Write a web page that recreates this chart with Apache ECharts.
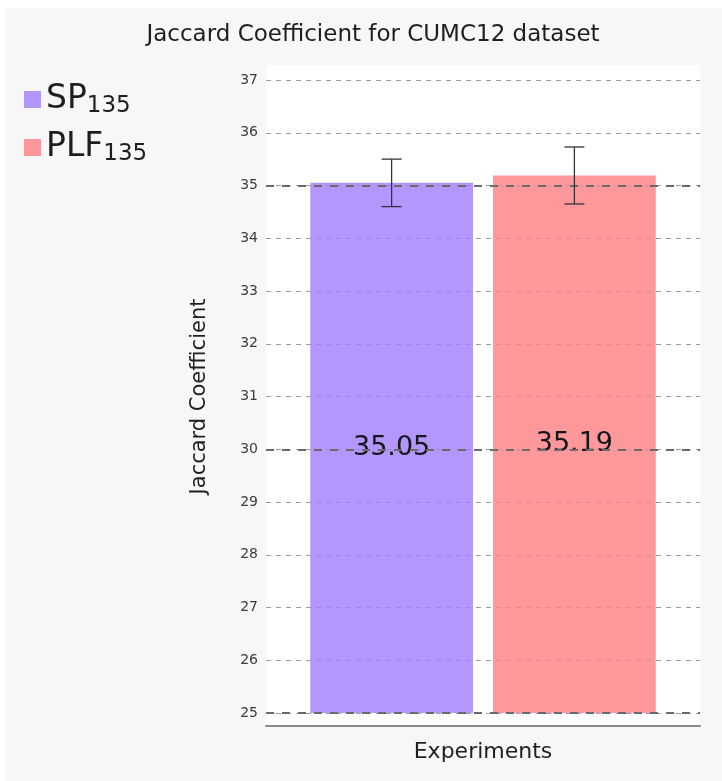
<!DOCTYPE html>
<html>
<head>
<meta charset="utf-8">
<script src="https://cdn.jsdelivr.net/npm/echarts@6/dist/echarts.min.js"></script>
<style>
  html, body { margin: 0; padding: 0; background: #ffffff; }
  #chart { width: 722px; height: 781px; }
</style>
</head>
<body>
<div id="chart"></div>
<script>
// Jaccard coefficient per experiment, with error bars
const seriesNames = ['SP', 'PLF'];
const nameSubscripts = ['135', '135'];
const meanValues = [35.05, 35.19];
const errorValues = [0.45, 0.54];
const categories = [''];
const yMin = 25;
const yMax = 37;
const yStep = 1;
const majorGuides = [25, 30, 35];

const barColors = ['rgba(161,125,251,0.8)', 'rgba(255,126,130,0.8)'];
const FONT = 'DejaVu Sans';
const BAR_WIDTH_RATIO = 0.375;
const BAR_GAP_RATIO = 0.123;

const chart = echarts.init(document.getElementById('chart'));

const barSeries = seriesNames.map((name, i) => ({
  name: name,
  type: 'bar',
  data: [meanValues[i]],
  barWidth: (BAR_WIDTH_RATIO * 100) + '%',
  barGap: (BAR_GAP_RATIO * 100) + '%',
  itemStyle: { color: barColors[i] },
  label: {
    show: true,
    position: 'inside',
    formatter: p => p.value.toFixed(2),
    fontFamily: FONT,
    fontSize: 27,
    color: '#16161f'
  },
  emphasis: { disabled: true },
  z: 2
}));

// thicker guides at the major values
barSeries[0].markLine = {
  silent: true,
  symbol: 'none',
  label: { show: false },
  lineStyle: { color: '#6a6a6a', width: 2, type: [8, 8] },
  data: majorGuides.map(v => ({ yAxis: v }))
};

const errorData = meanValues.map((m, i) => [0, m - errorValues[i], m + errorValues[i], i]);

const errorSeries = {
  type: 'custom',
  name: 'error',
  data: errorData,
  z: 5,
  silent: true,
  renderItem: function (params, api) {
    const s = api.value(3);
    const lo = api.coord([api.value(0), api.value(1)]);
    const hi = api.coord([api.value(0), api.value(2)]);
    const band = api.size([1, 0])[0];
    const bw = band * BAR_WIDTH_RATIO;
    const gap = bw * BAR_GAP_RATIO;
    const x = lo[0] + (s - 0.5) * (bw + gap);
    const cap = 10;
    const style = { stroke: '#333', lineWidth: 1.3 };
    return {
      type: 'group',
      children: [
        { type: 'line', shape: { x1: x, y1: lo[1], x2: x, y2: hi[1] }, style: style },
        { type: 'line', shape: { x1: x - cap, y1: lo[1], x2: x + cap, y2: lo[1] }, style: style },
        { type: 'line', shape: { x1: x - cap, y1: hi[1], x2: x + cap, y2: hi[1] }, style: style }
      ]
    };
  }
};

chart.setOption({
  animation: false,
  backgroundColor: '#ffffff',
  textStyle: { fontFamily: FONT },
  graphic: [
    { type: 'rect', z: -10, shape: { x: 6, y: 8, width: 716, height: 773 }, style: { fill: '#f7f7f7' } },
    { type: 'rect', z: -9, shape: { x: 266, y: 65, width: 434, height: 661 }, style: { fill: '#ffffff' } }
  ],
  title: {
    text: 'Jaccard Coefficient for CUMC12 dataset',
    left: 368,
    top: 19,
    textAlign: 'center',
    textStyle: { fontFamily: FONT, fontSize: 23, fontWeight: 'normal', color: '#1e1e1e' }
  },
  legend: {
    orient: 'vertical',
    left: 19,
    top: 78,
    itemGap: 13,
    itemWidth: 17,
    itemHeight: 17,
    icon: 'rect',
    selectedMode: false,
    data: seriesNames,
    formatter: name => {
      const i = seriesNames.indexOf(name);
      return '{n|' + name + '}{s|' + nameSubscripts[i] + '}';
    },
    textStyle: {
      color: '#1e1e1e',
      rich: {
        n: { fontFamily: FONT, fontSize: 33, lineHeight: 37, color: '#1e1e1e' },
        s: { fontFamily: FONT, fontSize: 23, lineHeight: 32, verticalAlign: 'bottom', color: '#1e1e1e' }
      }
    }
  },
  grid: { left: 266, right: 22, top: 80, bottom: 68 },
  xAxis: {
    type: 'category',
    data: categories,
    offset: 13,
    name: 'Experiments',
    nameLocation: 'middle',
    nameGap: 15,
    nameTextStyle: { fontFamily: FONT, fontSize: 22, color: '#1e1e1e', verticalAlign: 'top' },
    axisLine: { show: true, lineStyle: { color: '#8a8a8a', width: 2 } },
    axisTick: { show: false },
    axisLabel: { show: false },
    splitLine: { show: false }
  },
  yAxis: {
    type: 'value',
    min: yMin,
    max: yMax,
    interval: yStep,
    name: 'Jaccard Coefficient',
    nameLocation: 'middle',
    nameRotate: 90,
    nameGap: 56,
    nameTextStyle: { fontFamily: FONT, fontSize: 21, color: '#1e1e1e' },
    axisLine: { show: false },
    axisTick: { show: false },
    axisLabel: { fontFamily: FONT, fontSize: 14, color: '#3c3c3c', margin: 8 },
    splitLine: { show: true, lineStyle: { color: '#9c9c9c', width: 1, type: [5, 5] } }
  },
  series: [...barSeries, errorSeries]
});
</script>
</body>
</html>
